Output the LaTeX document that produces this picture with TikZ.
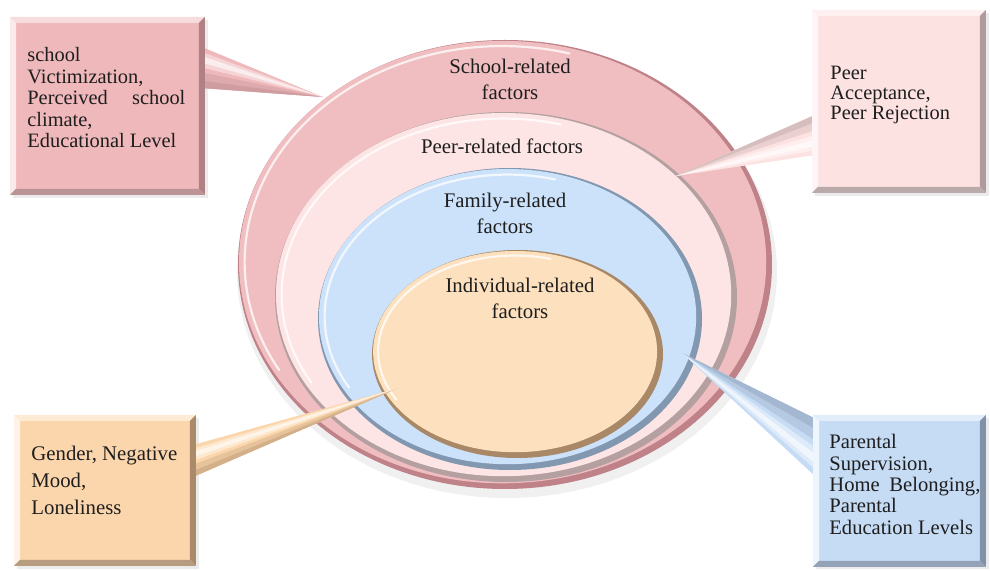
\documentclass[tikz,border=0pt]{standalone}
\usepackage{fontspec}
\setmainfont{Liberation Serif}
\usetikzlibrary{shapes.geometric,calc}

\definecolor{schoolc}{RGB}{240,190,193}
\definecolor{schoolrim}{RGB}{190,130,136}
\definecolor{peerc}{RGB}{253,229,229}
\definecolor{peerrim}{RGB}{180,160,160}
\definecolor{familyc}{RGB}{204,226,250}
\definecolor{familyrim}{RGB}{130,152,176}
\definecolor{indivc}{RGB}{253,224,190}
\definecolor{indivrim}{RGB}{168,136,102}
\definecolor{tlc}{RGB}{239,184,187}
\definecolor{tlrim}{RGB}{175,128,132}
\definecolor{trc}{RGB}{253,226,226}
\definecolor{trrim}{RGB}{175,155,155}
\definecolor{blc}{RGB}{251,214,172}
\definecolor{blrim}{RGB}{170,138,104}
\definecolor{brc}{RGB}{198,220,245}
\definecolor{brrim}{RGB}{128,146,170}
\definecolor{txt}{RGB}{30,30,30}

\newcommand\bevelbox[3]{%
  \fill[#2] (#1.north west) -- (#1.north east) -- ($(#1.north east)+(-6,6)$) -- ($(#1.north west)+(6,6)$) -- cycle;
  \fill[#2!60!white] (#1.north west) -- ($(#1.north west)+(6,6)$) -- ($(#1.south west)+(6,-6)$) -- (#1.south west) -- cycle;
  \fill[#3] (#1.north east) -- (#1.south east) -- ($(#1.south east)+(-6,-6)$) -- ($(#1.north east)+(-6,6)$) -- cycle;
  \fill[#3!85!white] (#1.south west) -- (#1.south east) -- ($(#1.south east)+(-6,-6)$) -- ($(#1.south west)+(6,-6)$) -- cycle;
}
% callout pointer: #1 light-side base, #2 dark-side base, #3 tip, #4 colour, #5 rim colour
\newcommand\pointerfan[5]{%
  \fill[#4] (#1) -- (#3) -- (#2) -- cycle;
  \fill[#5!25!#4] ($(#1)!0.62!(#2)$) -- (#3) -- (#2) -- cycle;
  \fill[#5!50!#4] ($(#1)!0.82!(#2)$) -- (#3) -- (#2) -- cycle;
  \fill[#4!60!white] ($(#1)!0.12!(#2)$) -- (#3) -- ($(#1)!0.5!(#2)$) -- cycle;
  \fill[#4!25!white] ($(#1)!0.22!(#2)$) -- (#3) -- ($(#1)!0.38!(#2)$) -- cycle;
}

\begin{document}
\begin{tikzpicture}[x=0.5pt,y=-0.5pt,
  ring/.style={ellipse, draw=none, inner sep=0pt},
  box/.style={rectangle, draw=none, inner sep=0pt, anchor=north west},
  lbl/.style={align=center, text=txt, inner sep=0pt, font=\fontsize{10.4}{13}\selectfont},
  boxtxt/.style={align=left, text=txt, inner sep=0pt, anchor=north west},
  hilite/.style={white, opacity=.75, line width=1.1pt, line cap=round}]
\useasboundingbox (0,0) rectangle (990,571);
\fill[white] (0,0) rectangle (990,571);

% soft shadow
\fill[black, opacity=.06] (507,272) ellipse [x radius=135pt, y radius=113pt];

% school ellipse
\node[ring, fill=schoolrim, minimum width=267pt, minimum height=224.5pt] (school) at (505,264.5) {};
\fill[schoolc] ([shift={(-1.2pt,1.2pt)}]school.center) ellipse [x radius=131.8pt, y radius=110.6pt];
\draw[hilite] ([shift={(-1.2pt,1.2pt)}]school.center) ++(75:129pt and 108pt) arc[start angle=75,end angle=210,x radius=129pt,y radius=108pt];

% peer ellipse
\node[ring, fill=peerrim, minimum width=231pt, minimum height=185pt] (peer) at (506,297) {};
\fill[peerc] ([shift={(-1.2pt,1.2pt)}]peer.center) ellipse [x radius=113.8pt, y radius=90.8pt];
\draw[hilite] ([shift={(-1.2pt,1.2pt)}]peer.center) ++(75:111pt and 88pt) arc[start angle=75,end angle=210,x radius=111pt,y radius=88pt];

% family ellipse
\node[ring, fill=familyrim, minimum width=192pt, minimum height=151pt] (family) at (510,319) {};
\fill[familyc] ([shift={(-1.2pt,1.2pt)}]family.center) ellipse [x radius=94.3pt, y radius=73.8pt];
\draw[hilite] ([shift={(-1.2pt,1.2pt)}]family.center) ++(75:91.5pt and 71pt) arc[start angle=75,end angle=210,x radius=91.5pt,y radius=71pt];

% individual ellipse
\node[ring, fill=indivrim, minimum width=145.5pt, minimum height=104pt] (indiv) at (517.5,354) {};
\fill[indivc] ([shift={(-1.2pt,1.2pt)}]indiv.center) ellipse [x radius=71pt, y radius=50.3pt];
\draw[hilite] ([shift={(-1.2pt,1.2pt)}]indiv.center) ++(75:68.5pt and 48pt) arc[start angle=75,end angle=210,x radius=68.5pt,y radius=48pt];

% ellipse labels
\node[lbl] (schoollbl) at (510,79) {School-related\\factors};
\node[lbl] (peerlbl) at (502,146) {Peer-related factors};
\node[lbl] (familylbl) at (505,213) {Family-related\\factors};
\node[lbl] (indivlbl) at (520,298) {Individual-related\\factors};

% boxes (shadow + body)
\fill[black, opacity=.08] (13,20) rectangle (208,198);
\fill[black, opacity=.08] (815,13) rectangle (989,196);
\fill[black, opacity=.08] (17,418) rectangle (199,569);
\fill[black, opacity=.08] (816,418) rectangle (989,569);
\node[box, fill=tlc, minimum width=97pt, minimum height=88.5pt] (tl) at (10,17) {};
\node[box, fill=trc, minimum width=86.5pt, minimum height=91pt] (tr) at (812,10) {};
\node[box, fill=blc, minimum width=90.5pt, minimum height=75pt] (bl) at (14,415) {};
\node[box, fill=brc, minimum width=86pt, minimum height=75.5pt] (br) at (813,415) {};

% pointer tips and bases
\coordinate (tltip) at (323,97);
\coordinate (trtip) at (676,176);
\coordinate (bltip) at (398,388);
\coordinate (brtip) at (682,353);
\coordinate (tlb1) at ($(tl.north east)+(-3,30)$);
\coordinate (tlb2) at ($(tl.north east)+(-3,71)$);
\coordinate (trb1) at ($(tr.north west)+(3,145)$);
\coordinate (trb2) at ($(tr.north west)+(3,105)$);
\coordinate (blb1) at ($(bl.north east)+(-3,30)$);
\coordinate (blb2) at ($(bl.north east)+(-3,62)$);
\coordinate (brb1) at ($(br.north west)+(3,62)$);
\coordinate (brb2) at ($(br.north west)+(3,4)$);

% pointers
\pointerfan{tlb1}{tlb2}{tltip}{tlc}{tlrim}
\pointerfan{trb1}{trb2}{trtip}{trc}{trrim}
\pointerfan{blb1}{blb2}{bltip}{blc}{blrim}
\pointerfan{brb1}{brb2}{brtip}{brc}{brrim}

% bevels
\bevelbox{tl}{tlc!50!white}{tlrim}
\bevelbox{tr}{trc!50!white}{trrim}
\bevelbox{bl}{blc!50!white}{blrim}
\bevelbox{br}{brc!50!white}{brrim}

% box texts
\node[boxtxt, font=\fontsize{10.2}{10.8}\selectfont] (tltxt) at (27,47)
  {school\\Victimization,\\\makebox[79pt][s]{Perceived school}\\climate,\\Educational Level};
\node[boxtxt, font=\fontsize{10.2}{9.9}\selectfont] (trtxt) at (830,66)
  {Peer\\Acceptance,\\Peer Rejection};
\node[boxtxt, font=\fontsize{10.4}{13.4}\selectfont] (bltxt) at (31,446)
  {Gender, Negative\\Mood,\\Loneliness};
\node[boxtxt, font=\fontsize{10.3}{10.7}\selectfont] (brtxt) at (829,434)
  {Parental\\Supervision,\\\makebox[75.5pt][s]{Home Belonging,}\\Parental\\Education Levels};
\end{tikzpicture}
\end{document}
